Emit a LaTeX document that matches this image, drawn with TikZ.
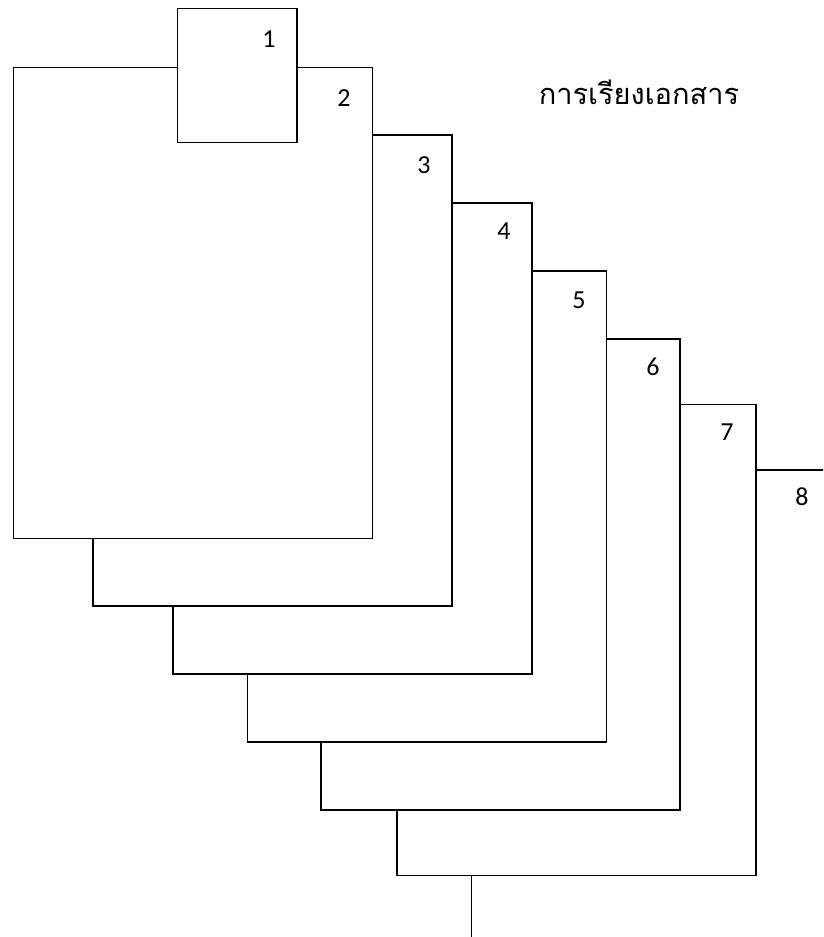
\documentclass[tikz,border=0pt]{standalone}
\usepackage{fontspec}
\setmainfont{Carlito}
\newfontfamily\thaifont[Script=Thai]{Loma}
\begin{document}
\begin{tikzpicture}[
    x=1pt, y=-1pt,
    page/.style={draw, line width=1.5pt, fill=white, minimum width=359pt, minimum height=471pt, anchor=north west, inner sep=0pt},
    cover/.style={draw, line width=1.5pt, fill=white, minimum width=119.5pt, minimum height=134pt, anchor=north west, inner sep=0pt},
    num/.style={font=\fontsize{26}{30}\selectfont, inner sep=0pt},
    title/.style={font=\thaifont\fontsize{29}{35}\selectfont, inner sep=0pt},
  ]
    \useasboundingbox (0,0) rectangle (823,937);
    \clip (0,0) rectangle (823,937);
    \node[page] (p8) at (470.5,469) {};
    \node[page] (p7) at (396,403.5) {};
    \node[page] (p6) at (320,338) {};
    \node[page] (p5) at (246.5,270) {};
    \node[page] (p4) at (172,202) {};
    \node[page] (p3) at (92,134) {};
    \node[page] (p2) at (12.5,66.5) {};
    \node[cover] (p1) at (176.5,7.5) {};
    \node[num] (n1) at (269,39) {1};
    \node[num] (n2) at (344,98) {2};
    \node[num] (n3) at (424,165) {3};
    \node[num] (n4) at (504,231) {4};
    \node[num] (n5) at (579,300) {5};
    \node[num] (n6) at (653,367) {6};
    \node[num] (n7) at (727,432) {7};
    \node[num] (n8) at (802,497) {8};
    \node[title] (ttl) at (639,92) {การเรียงเอกสาร};
  \end{tikzpicture}
\end{document}
